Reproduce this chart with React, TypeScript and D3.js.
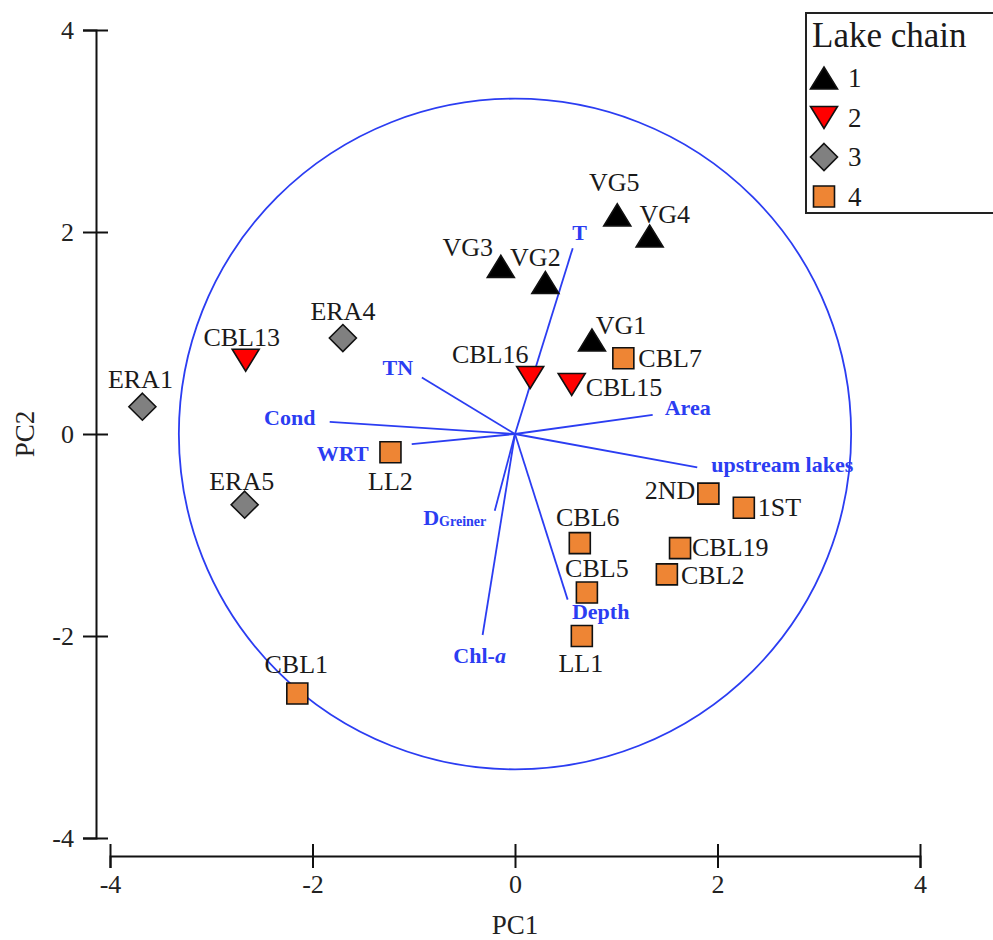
import React, { useEffect, useRef } from 'react'
import * as d3 from 'd3'

// site scores
const sites = ['VG1', 'VG2', 'VG3', 'VG4', 'VG5', 'CBL13', 'CBL15', 'CBL16', 'ERA1', 'ERA4', 'ERA5',
  'CBL1', 'CBL2', 'CBL5', 'CBL6', 'CBL7', 'CBL19', 'LL1', 'LL2', '1ST', '2ND']
const chain = [1, 1, 1, 1, 1, 2, 2, 2, 3, 3, 3, 4, 4, 4, 4, 4, 4, 4, 4, 4, 4]
const pc1 = [0.76, 0.30, -0.14, 1.33, 1.01, -2.66, 0.56, 0.15, -3.68, -1.70, -2.67,
  -2.15, 1.50, 0.71, 0.64, 1.07, 1.63, 0.66, -1.23, 2.26, 1.91]
const pc2 = [0.93, 1.50, 1.66, 1.96, 2.17, 0.73, 0.49, 0.56, 0.27, 0.95, -0.70,
  -2.57, -1.39, -1.57, -1.08, 0.75, -1.13, -2.00, -0.18, -0.73, -0.59]

// variable loadings (arrows)
const variables = ['T', 'TN', 'Cond', 'WRT', 'Area', 'upstream lakes', 'DGreiner', 'Chl-a', 'Depth']
const loadX = [0.57, -0.92, -1.83, -1.02, 1.36, 1.80, -0.20, -0.32, 0.52]
const loadY = [1.84, 0.56, 0.12, -0.10, 0.19, -0.33, -0.76, -1.99, -1.64]

const chains = ['1', '2', '3', '4']
const ticks = [-4, -2, 0, 2, 4]
const circleRadius = 3.32

// label placement: [anchor, dx, dy]
const siteLabelPos: Record<string, [string, number, number]> = {
  VG1: ['middle', 29, -15], VG2: ['middle', -10, -25], VG3: ['middle', -33, -19],
  VG4: ['middle', 15, -22], VG5: ['middle', -3, -32], CBL13: ['middle', -4, -23],
  CBL15: ['start', 14, 3], CBL16: ['middle', -40, -23], ERA1: ['middle', -2, -27],
  ERA4: ['middle', 0, -27], ERA5: ['middle', -3, -23], CBL1: ['middle', -1, -29],
  CBL2: ['start', 14, 1], CBL5: ['middle', 10, -24], CBL6: ['middle', 8, -26],
  CBL7: ['start', 15, 0], CBL19: ['start', 12, -1], LL1: ['middle', -1, 27],
  LL2: ['middle', 0, 29], '1ST': ['start', 14, 0], '2ND': ['end', -13, -3]
}
const varLabelPos: Record<string, [number, number]> = {
  T: [7, -16], TN: [-24, -10], Cond: [-40, -4], WRT: [-69, 9], Area: [35, -7],
  'upstream lakes': [85, -3], 'Chl-a': [-3, 20], Depth: [33, 12], DGreiner: [-40, 6]
}

const fills: Record<number, string> = { 1: '#000000', 2: '#ff0000', 3: '#808080', 4: '#ee8534' }
const blue = '#2b3df2'
const serif = '"Liberation Serif", "Times New Roman", serif'

function markerPath(c: number): string {
  if (c === 1) return 'M-13.5,11L0,-11L13.5,11Z'
  if (c === 2) return 'M-13.5,-11L13.5,-11L0,11Z'
  if (c === 3) return 'M0,-13.5L13.5,0L0,13.5L-13.5,0Z'
  return 'M-10.5,-10.5L10.5,-10.5L10.5,10.5L-10.5,10.5Z'
}

export default function App() {
  const ref = useRef<SVGSVGElement>(null)

  useEffect(() => {
    const svg = d3.select(ref.current)
    svg.selectAll('*').remove()

    const x = d3.scaleLinear().domain([-4, 4]).range([110, 920])
    const y = d3.scaleLinear().domain([-4, 4]).range([838, 30])
    const fmt = (d: d3.NumberValue) => String(d)

    // y axis
    const yAxis = svg.append('g').attr('transform', 'translate(96,0)')
      .call(d3.axisLeft(y).tickValues(ticks).tickSize(13).tickPadding(9).tickFormat(fmt))
    yAxis.select('.domain').attr('stroke', '#111').attr('stroke-width', 2)
    yAxis.selectAll('.tick line').attr('x1', 12).attr('stroke', '#111').attr('stroke-width', 2)
    yAxis.selectAll('.tick text').attr('font-family', serif).attr('font-size', 26).attr('fill', '#222')

    // x axis
    const xAxis = svg.append('g').attr('transform', 'translate(0,856)')
      .call(d3.axisBottom(x).tickValues(ticks).tickSize(12).tickPadding(7).tickFormat(fmt))
    xAxis.select('.domain').attr('stroke', '#111').attr('stroke-width', 2)
    xAxis.selectAll('.tick line').attr('y1', -12).attr('stroke', '#111').attr('stroke-width', 2)
    xAxis.selectAll('.tick text').attr('font-family', serif).attr('font-size', 26).attr('fill', '#222')

    svg.append('text').attr('x', x(0)).attr('y', 934).attr('text-anchor', 'middle')
      .attr('font-family', serif).attr('font-size', 27).attr('fill', '#222').text('PC1')
    svg.append('text').attr('transform', 'translate(34,' + y(0) + ') rotate(-90)')
      .attr('text-anchor', 'middle').attr('font-family', serif).attr('font-size', 27)
      .attr('fill', '#222').text('PC2')

    // correlation circle
    svg.append('ellipse').attr('cx', x(0)).attr('cy', y(0))
      .attr('rx', x(circleRadius) - x(0)).attr('ry', y(0) - y(circleRadius))
      .attr('fill', 'none').attr('stroke', blue).attr('stroke-width', 1.8)

    // loading arrows
    const vg = svg.append('g')
    variables.forEach((v, i) => {
      const ex = x(loadX[i]), ey = y(loadY[i])
      vg.append('line').attr('x1', x(0)).attr('y1', y(0)).attr('x2', ex).attr('y2', ey)
        .attr('stroke', blue).attr('stroke-width', 1.8)
      const [dx, dy] = varLabelPos[v]
      const t = vg.append('text').attr('x', ex + dx).attr('y', ey + dy)
        .attr('font-family', serif).attr('font-weight', 'bold').attr('fill', blue)
        .attr('font-size', 22).attr('text-anchor', 'middle').attr('dominant-baseline', 'central')
      if (v === 'DGreiner') {
        t.append('tspan').text('D')
        t.append('tspan').attr('font-size', 14).attr('dy', 4).text('Greiner')
      } else if (v === 'Chl-a') {
        t.append('tspan').text('Chl-')
        t.append('tspan').attr('font-style', 'italic').text('a')
      } else {
        t.text(v)
      }
    })

    // site markers and labels
    const pg = svg.append('g')
    sites.forEach((s, i) => {
      const px = x(pc1[i]), py = y(pc2[i])
      pg.append('path').attr('d', markerPath(chain[i]))
        .attr('transform', 'translate(' + px + ',' + py + ')')
        .attr('fill', fills[chain[i]]).attr('stroke', '#111').attr('stroke-width', 1.6)
      const [anchor, dx, dy] = siteLabelPos[s]
      pg.append('text').attr('x', px + dx).attr('y', py + dy)
        .attr('text-anchor', anchor).attr('dominant-baseline', 'central')
        .attr('font-family', serif).attr('font-size', 26).attr('fill', '#1a1a1a').text(s)
    })

    // legend
    const lg = svg.append('g')
    lg.append('rect').attr('x', 806).attr('y', 13).attr('width', 200).attr('height', 200)
      .attr('fill', 'white').attr('stroke', '#222').attr('stroke-width', 2)
    lg.append('text').attr('x', 812).attr('y', 47).attr('font-family', serif).attr('font-size', 35)
      .attr('fill', '#1a1a1a').text('Lake chain')
    chains.forEach((c, i) => {
      const cy = 78 + i * 39.5
      lg.append('path').attr('d', markerPath(i + 1)).attr('transform', 'translate(824,' + cy + ')')
        .attr('fill', fills[i + 1]).attr('stroke', '#111').attr('stroke-width', 1.6)
      lg.append('text').attr('x', 848).attr('y', cy).attr('dominant-baseline', 'central')
        .attr('font-family', serif).attr('font-size', 27).attr('fill', '#1a1a1a').text(c)
    })
  }, [])

  return (
    <svg ref={ref} width={993} height={940}
      style={{ position: 'absolute', left: 0, top: 0, background: 'white' }} />
  )
}
